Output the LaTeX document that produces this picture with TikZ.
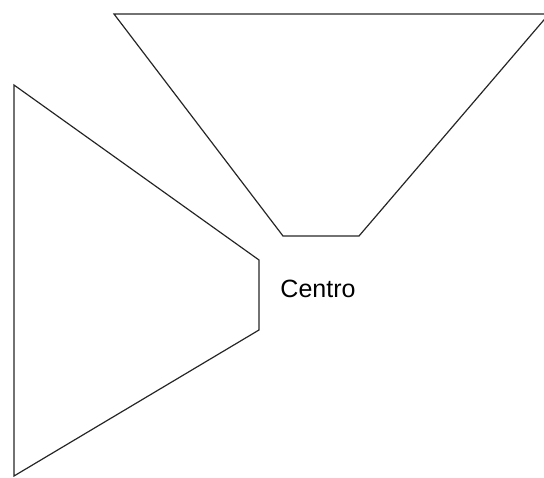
\documentclass[tikz,border=0pt]{standalone}
\usepackage{fontspec}
\setmainfont{Liberation Sans}
\usetikzlibrary{positioning}

\begin{document}
\begin{tikzpicture}[x=1pt,y=-1pt,line width=1.2pt,
    cone/.style={draw=black!85,line join=miter}]
    \useasboundingbox (0,0) rectangle (544,478);
    \clip (0,0) rectangle (544,478);

    % upper funnel
    \coordinate (upTL) at (114,14);
    \coordinate (upTR) at (549,14);
    \coordinate (upBR) at (359,236);
    \coordinate (upBL) at (283,236);
    \draw[cone] (upTL) -- (upTR) -- (upBR) -- (upBL) -- cycle;

    % left funnel
    \coordinate (lfTL) at (14,85);
    \coordinate (lfTR) at (259,260);
    \coordinate (lfBR) at (259,330);
    \coordinate (lfBL) at (14,476);
    \draw[cone] (lfTL) -- (lfTR) -- (lfBR) -- (lfBL) -- cycle;

    \node[anchor=base] (centro) at (318,298) {\fontsize{25}{30}\selectfont Centro};
\end{tikzpicture}
\end{document}
